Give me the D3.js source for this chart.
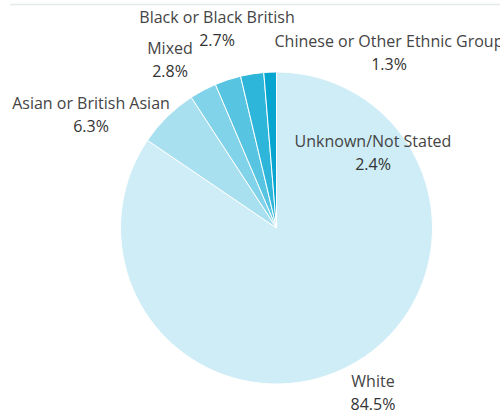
<!DOCTYPE html>
<html>
<head>
<meta charset="utf-8">
<script src="https://cdn.jsdelivr.net/npm/d3@7"></script>
<style>
  body { margin: 0; background: #fff; }
  svg { display: block; }
  text { font-family: "Open Sans", sans-serif; font-size: 16px; fill: #333; }
</style>
</head>
<body>
<div id="chart"></div>
<script>
// groups in clockwise order starting at 12 o'clock
var groups = ["White", "Asian or British Asian", "Mixed", "Black or Black British", "Unknown/Not Stated", "Chinese or Other Ethnic Group"]
var shares = [84.5, 6.3, 2.8, 2.7, 2.4, 1.3]
var colores = ["#ceedf6", "#a8e0ef", "#80d3e8", "#57c5e1", "#2db6d9", "#07a6d0"]

// label anchor points (centre of each two-line label)
var labelX = [373, 91, 170, 217, 389, 373]
var labelY = [381, 103, 48, 17, 41, 141]
// which label belongs to which group
var labelGroup = ["White", "Asian or British Asian", "Mixed", "Black or Black British", "Chinese or Other Ethnic Group", "Unknown/Not Stated"]

var ancho = 500, alto = 419
var svg = d3.select("#chart").append("svg")
  .attr("width", ancho).attr("height", alto)

// faint rule at the top
svg.append("line")
  .attr("x1", 10).attr("x2", ancho).attr("y1", 4.5).attr("y2", 4.5)
  .style("stroke", "#e4ebe9").style("stroke-width", 1.5)

var cx = 276.5, cy = 228, radio = 156

var datos = groups.map(function(g, i) { return { grupo: g, valor: shares[i] } })

var pie = d3.pie().sort(null).value(d => d.valor)
var arc = d3.arc().innerRadius(0).outerRadius(radio)

var color = d3.scaleOrdinal().domain(groups).range(colores)

var g = svg.append("g").attr("transform", "translate(" + cx + "," + cy + ")")
g.selectAll("path")
  .data(pie(datos))
  .enter()
  .append("path")
  .attr("d", arc)
  .style("fill", d => color(d.data.grupo))
  .style("stroke", "#fff")
  .style("stroke-width", 1)

var etiquetas = svg.selectAll("g.lab")
  .data(labelGroup)
  .enter()
  .append("g")
  .attr("class", "lab")
  .attr("transform", (d, i) => "translate(" + labelX[i] + "," + labelY[i] + ")")

etiquetas.append("text")
  .attr("text-anchor", "middle")
  .attr("dy", "0.35em")
  .style("fill", "#444")
  .text(d => d)
etiquetas.append("text")
  .attr("text-anchor", "middle")
  .attr("y", 23)
  .attr("dy", "0.35em")
  .text(d => shares[groups.indexOf(d)].toFixed(1) + "%")
</script>
</body>
</html>
